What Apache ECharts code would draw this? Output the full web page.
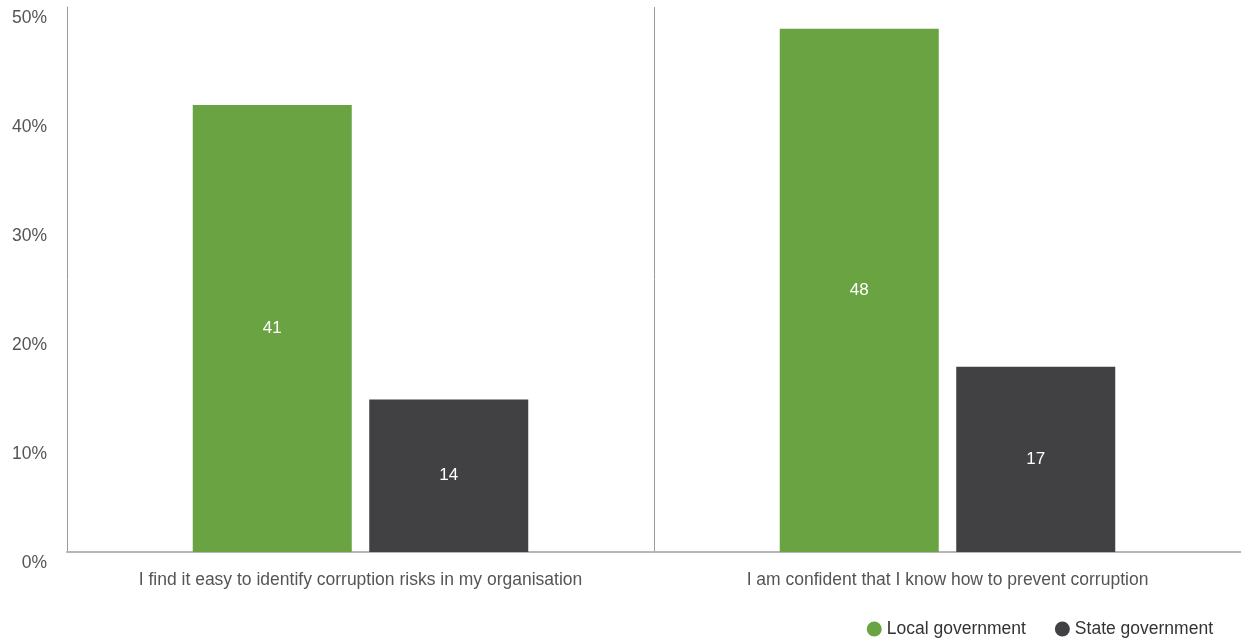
<!DOCTYPE html>
<html>
<head>
<meta charset="utf-8">
<script src="https://cdn.jsdelivr.net/npm/echarts@6/dist/echarts.min.js"></script>
<style>
  html, body { margin: 0; padding: 0; background: #fff; }
  #chart { width: 1241px; height: 643px; }
</style>
</head>
<body>
<div id="chart"></div>
<script>
// Survey statements shown along the horizontal axis
const categories = [
  'I find it easy to identify corruption risks in my organisation',
  'I am confident that I know how to prevent corruption'
];
// Share of respondents agreeing (%)
const localGov = [41, 48];
const stateGov = [14, 17];
const seriesNames = ['Local government', 'State government'];
const yTicks = [0, 10, 20, 30, 40, 50];

const FONT = '"Liberation Sans", Arial, Helvetica, sans-serif';
const chart = echarts.init(document.getElementById('chart'));

const barLabel = {
  show: true,
  position: 'inside',
  color: '#ffffff',
  fontSize: 17,
  fontFamily: FONT
};

chart.setOption({
  animation: false,
  textStyle: { fontFamily: FONT },
  grid: { left: 67, right: 0, top: 7, bottom: 91, containLabel: false },
  legend: {
    data: seriesNames,
    right: 23,
    bottom: 0,
    icon: 'circle',
    itemWidth: 15,
    itemHeight: 15,
    itemGap: 29,
    textStyle: { fontSize: 17.5, color: '#333', fontFamily: FONT }
  },
  xAxis: {
    type: 'category',
    data: categories,
    axisLine: { show: true, lineStyle: { color: '#b4b4ba', width: 2 } },
    axisTick: { show: false },
    axisLabel: { color: '#555', fontSize: 17.5, margin: 19, fontFamily: FONT },
    splitLine: {
      show: true,
      showMinLine: false,
      showMaxLine: false,
      lineStyle: { color: '#9a9a9a', width: 1 }
    }
  },
  yAxis: {
    type: 'value',
    min: yTicks[0],
    max: yTicks[yTicks.length - 1],
    interval: yTicks[1] - yTicks[0],
    axisLine: { show: true, lineStyle: { color: '#9a9a9a', width: 1 } },
    axisTick: { show: false },
    splitLine: { show: false },
    axisLabel: {
      color: '#555',
      fontSize: 17.5,
      margin: 20,
      verticalAlign: 'top',
      padding: [2, 0, 0, 0],
      fontFamily: FONT,
      formatter: v => v + '%'
    }
  },
  series: [
    {
      name: seriesNames[0],
      type: 'bar',
      data: localGov,
      barWidth: 159,
      barGap: '11%',
      itemStyle: { color: '#6aa341' },
      label: barLabel
    },
    {
      name: seriesNames[1],
      type: 'bar',
      data: stateGov,
      barWidth: 159,
      barGap: '11%',
      itemStyle: { color: '#414143' },
      label: barLabel
    }
  ]
});
</script>
</body>
</html>
